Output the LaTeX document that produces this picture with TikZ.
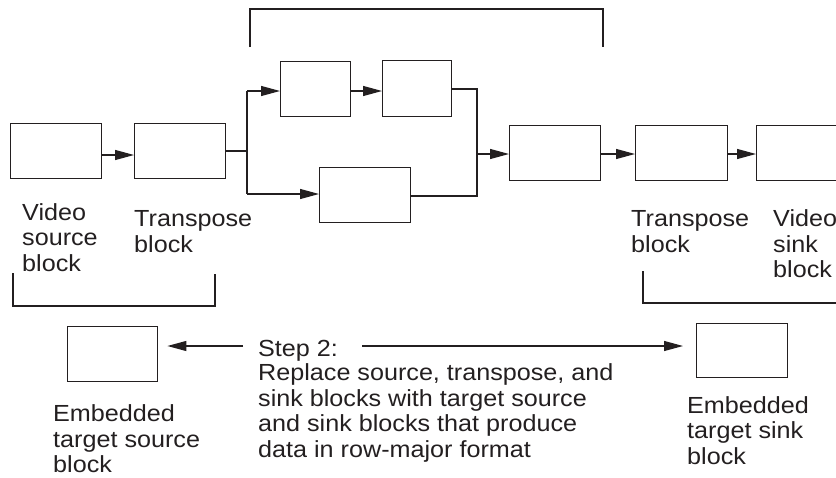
\documentclass[tikz,border=0pt]{standalone}
\usepackage{fontspec}
\setmainfont{Liberation Sans}[FakeStretch=1.08]
\usetikzlibrary{arrows.meta,calc}
\definecolor{ink}{HTML}{231F20}
\begin{document}
\begin{tikzpicture}[x=1pt,y=-1pt,
  blk/.style={draw=ink,line width=1.4pt,inner sep=0pt,anchor=north west,minimum width=91pt,minimum height=55pt},
  wire/.style={draw=ink,line width=1.2pt},
  arr/.style={wire,-{Triangle[length=19pt,width=10pt]}},
  brk/.style={draw=ink,line width=1.3pt},
  lbl/.style={text=ink,inner sep=0pt,anchor=base west,align=left,font=\fontsize{23.3}{25.5}\selectfont}]
\useasboundingbox (0,0) rectangle (836,477);
\clip (0,0) rectangle (836,477);
% top row blocks
\node[blk] (A) at (10,123) {};
\node[blk] (B) at (134,123) {};
\node[blk,minimum width=70pt] (C) at (280,61) {};
\node[blk,minimum width=69pt,minimum height=56pt] (D) at (382,60) {};
\node[blk] (E) at (319,167) {};
\node[blk] (F) at (509,125) {};
\node[blk,minimum width=92pt] (G) at (635,125) {};
\node[blk,minimum width=100pt] (H) at (756,125) {};
% bottom blocks
\node[blk,minimum width=90pt] (L) at (67,326) {};
\node[blk,minimum height=54pt] (R) at (696,323) {};
% junctions
\coordinate (j1) at (247,151);
\coordinate (j1t) at (247,91);
\coordinate (j1b) at (247,194);
\coordinate (j2) at (477,154);
\coordinate (j2t) at (477,89);
\coordinate (j2b) at (477,196);
\coordinate (ya) at (0,155);
\coordinate (yb) at (0,154);
% connectors
\draw[arr] (A.east |- ya) -- (B.west |- ya);
\draw[wire] (B.east |- j1) -- (j1);
\draw[wire] (j1t) -- (j1b);
\draw[arr] (j1t) -- (C.west |- j1t);
\draw[arr] (j1b) -- (E.west |- j1b);
\draw[arr] (C.east |- j1t) -- (D.west |- j1t);
\draw[wire] (D.east |- j2t) -- (j2t) -- (j2b) -- (E.east |- j2b);
\draw[arr] (j2) -- (F.west |- j2);
\draw[arr] (F.east |- yb) -- (G.west |- yb);
\draw[arr] (G.east |- yb) -- (H.west |- yb);
% brackets
\coordinate (t1) at (250,47); \coordinate (t2) at (250,9);
\coordinate (t3) at (603,9); \coordinate (t4) at (603,47);
\draw[brk] (t1) -- (t2) -- (t3) -- (t4);
\coordinate (l1) at (13,273); \coordinate (l2) at (13,306);
\coordinate (l3) at (215,306); \coordinate (l4) at (215,274);
\draw[brk] (l1) -- (l2) -- (l3) -- (l4);
\coordinate (r1) at (643,271); \coordinate (r2) at (643,303);
\coordinate (r3) at (845,303);
\draw[brk] (r1) -- (r2) -- (r3);
% labels (anchor = baseline of the last line)
\node[lbl] (vs) at (22,271) {Video\\source\\block};
\node[lbl] (tb1) at (134,252) {Transpose\\block};
\node[lbl] (tb2) at (631,252) {Transpose\\block};
\node[lbl] (vk) at (773,277.5) {Video\\sink\\block};
\node[lbl] (el) at (53,472.5) {Embedded\\target source\\block};
\node[lbl] (er) at (687,464) {Embedded\\target sink\\block};
\node[lbl] (step) at (258,356) {Step 2:};
\node[lbl] (desc) at (258,457) {Replace source, transpose, and\\sink blocks with target source\\and sink blocks that produce\\data in row-major format};
% step arrows
\coordinate (sl) at (243,346);
\coordinate (sr) at (362,346);
\draw[arr] (sl) -- ([xshift=9pt]L.east |- sl);
\draw[arr] (sr) -- ([xshift=-13pt]R.west |- sr);
\end{tikzpicture}
\end{document}
